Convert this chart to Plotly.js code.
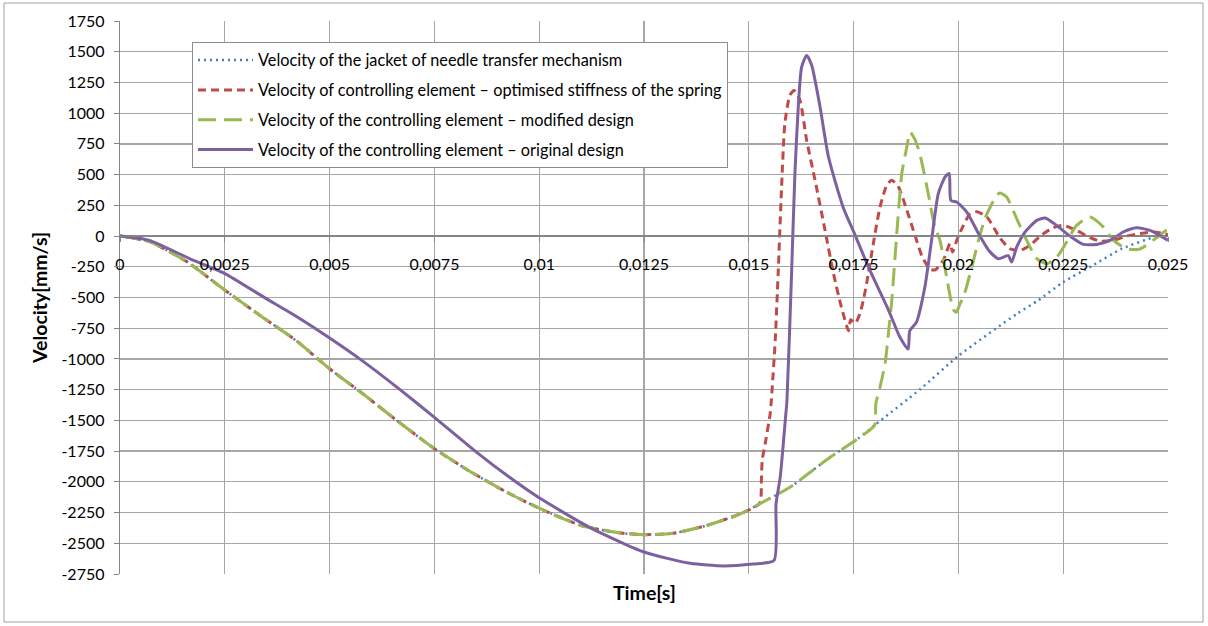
<!DOCTYPE html>
<html><head><meta charset="utf-8">
<script src="https://cdn.plot.ly/plotly-3.0.1.min.js"></script>
<style>html,body{margin:0;padding:0;background:#fff}#chart{width:1208px;height:626px}</style>
</head><body><div id="chart"></div>
<script>
// Velocity of the jacket of needle transfer mechanism
const jacketT = [0,0.0007,0.0016,0.0025,0.0034,0.0042,0.005,0.0058,0.0066,0.0075,0.0083,0.0092,0.01,0.011,0.0119,0.0125,0.0132,0.014,0.0148,0.0155,0.016,0.0169,0.0176,0.018,0.0191,0.02,0.0214,0.0219,0.0225,0.0232,0.0239,0.0247,0.025];
const jacketV = [0,-45,-210,-440,-660,-850,-1080,-1285,-1500,-1730,-1905,-2080,-2215,-2355,-2415,-2430,-2418,-2355,-2260,-2135,-2040,-1810,-1650,-1540,-1243,-975,-632,-524,-375,-240,-103,-5,20];

// Velocity of controlling element – optimised stiffness of the spring
const optimT = [0,0.0007,0.0016,0.0025,0.0034,0.0042,0.005,0.0058,0.0066,0.0075,0.0083,0.0092,0.01,0.011,0.0119,0.0125,0.0132,0.014,0.0148,0.01526,0.0153,0.01532,0.01539,0.01551,0.01554,0.01563,0.0157,0.01578,0.01586,0.01598,0.01608,0.01622,0.01638,0.01658,0.01682,0.01702,0.01721,0.01738,0.01743,0.01754,0.01765,0.01773,0.01781,0.01797,0.01813,0.01829,0.01841,0.01857,0.01877,0.01897,0.01913,0.01932,0.01945,0.01965,0.0198,0.01986,0.01996,0.02012,0.02028,0.02044,0.02068,0.02091,0.021,0.02123,0.02147,0.02171,0.02195,0.02226,0.0225,0.02282,0.02314,0.02338,0.0237,0.02401,0.02433,0.02465,0.02489,0.025];
const optimV = [0,-45,-210,-440,-660,-850,-1080,-1285,-1500,-1730,-1905,-2080,-2215,-2355,-2415,-2430,-2418,-2355,-2260,-2175,-1990,-1825,-1690,-1445,-1325,-850,-305,380,915,1145,1185,1105,780,455,45,-305,-580,-770,-680,-710,-632,-525,-387,-62,236,413,455,400,210,0,-163,-270,-275,-190,-60,-130,-35,87,182,198,155,30,-20,-103,-117,-76,0,68,87,46,-13,-41,-35,0,20,33,20,5];

// Velocity of the controlling element – modified design
const modT = [0,0.0007,0.0016,0.0025,0.0034,0.0042,0.005,0.0058,0.0066,0.0075,0.0083,0.0092,0.01,0.011,0.0119,0.0125,0.0132,0.014,0.0148,0.0155,0.016,0.0169,0.0176,0.018,0.01803,0.01813,0.01825,0.01833,0.01841,0.01853,0.01865,0.01877,0.01885,0.01897,0.01908,0.01928,0.01944,0.01956,0.01972,0.01988,0.01995,0.02004,0.02012,0.02028,0.02048,0.02063,0.02075,0.02091,0.02099,0.02115,0.02139,0.02163,0.02187,0.02211,0.02235,0.02258,0.02282,0.02314,0.02346,0.0237,0.02401,0.02433,0.02473,0.025];
const modV = [0,-45,-210,-440,-660,-850,-1080,-1285,-1500,-1730,-1905,-2080,-2215,-2355,-2415,-2430,-2418,-2355,-2260,-2135,-2040,-1810,-1650,-1540,-1365,-1230,-1040,-795,-525,20,510,725,845,780,670,345,73,-35,-334,-600,-620,-550,-497,-306,-35,140,230,330,350,318,142,-35,-184,-225,-171,-49,87,155,73,-35,-103,-105,-13,60];

// Velocity of the controlling element – original design
const origT = [0,0.0007,0.00167,0.0025,0.00342,0.00421,0.005,0.0058,0.00668,0.0075,0.00851,0.0093,0.01,0.0112,0.0125,0.0136,0.0144,0.0151,0.0156,0.01565,0.01575,0.01587,0.01591,0.01602,0.0161,0.01618,0.01626,0.01638,0.0165,0.0167,0.0169,0.01725,0.01752,0.01789,0.01833,0.0186,0.0188,0.01884,0.019,0.0192,0.01936,0.01952,0.01968,0.01978,0.01982,0.01996,0.0202,0.02048,0.02072,0.02095,0.02119,0.02127,0.02139,0.02159,0.02187,0.02207,0.02234,0.02266,0.02298,0.0233,0.02362,0.02393,0.02425,0.02457,0.025];
const origV = [0,-35,-185,-305,-495,-655,-830,-1020,-1250,-1475,-1760,-1965,-2130,-2370,-2571,-2663,-2684,-2668,-2641,-2180,-1960,-1500,-1338,-305,510,1050,1375,1470,1390,1050,645,235,20,-280,-600,-820,-920,-770,-700,-415,-35,345,480,510,290,277,195,20,-115,-184,-160,-212,-90,33,128,147,87,0,-68,-68,-35,33,68,46,-35];

const xTickVals = [0,0.0025,0.005,0.0075,0.01,0.0125,0.015,0.0175,0.02,0.0225,0.025];
const xTickText = ['0','0,0025','0,005','0,0075','0,01','0,0125','0,015','0,0175','0,02','0,0225','0,025'];
const yTickVals = [-2750,-2500,-2250,-2000,-1750,-1500,-1250,-1000,-750,-500,-250,0,250,500,750,1000,1250,1500,1750];
const yTickText = ['-2750','-2500','-2250','-2000','-1750','-1500','-1250','-1000','-750','-500','-250','0','250','500','750','1000','1250','1500','1750'];

const names = [
  'Velocity of the jacket of needle transfer mechanism',
  'Velocity of controlling element \u2013 optimised stiffness of the spring',
  'Velocity of the controlling element \u2013 modified design',
  'Velocity of the controlling element \u2013 original design'
];

const FONT = 'Lato, "Open Sans", sans-serif';
const SM = 0.6;
const traces = [
  {x: jacketT, y: jacketV, name: names[0], legendgroup: 'a', mode: 'lines',
   line: {color: '#4A7EBB', width: 2.5, dash: '2px,4px', shape: 'spline', smoothing: SM}},
  {x: optimT, y: optimV, name: names[1], legendgroup: 'b', mode: 'lines',
   line: {color: '#BE4B48', width: 3, dash: '8px,5px', shape: 'spline', smoothing: SM}},
  {x: modT, y: modV, name: names[2], legendgroup: 'c', mode: 'lines',
   line: {color: '#98B954', width: 3, dash: '18px,8px', shape: 'spline', smoothing: SM}},
  {x: origT, y: origV, name: names[3], legendgroup: 'd', mode: 'lines',
   line: {color: '#7D60A0', width: 3, shape: 'spline', smoothing: SM}}
];

const yFrac = 2750 / 4500;
const layout = {
  width: 1208, height: 626,
  margin: {l: 120, r: 40, t: 21, b: 52},
  paper_bgcolor: '#fff', plot_bgcolor: '#fff',
  font: {family: FONT, size: 15, color: '#000'},
  showlegend: true,
  legend: {x: 0.0687, y: 0.962, xanchor: 'left', yanchor: 'top',
    bgcolor: '#fff', bordercolor: '#8c8c8c', borderwidth: 1,
    font: {family: FONT, size: 16.3, color: '#000'},
    traceorder: 'grouped', tracegroupgap: 5.6, itemwidth: 55},
  xaxis: {range: [0, 0.025], tickvals: xTickVals, ticktext: xTickText,
    anchor: 'free', position: yFrac,
    showgrid: true, gridcolor: '#a6a6a6', gridwidth: 1.3,
    showline: true, linecolor: '#868686', linewidth: 1.3,
    ticks: 'outside', ticklen: 5, tickcolor: '#868686',
    ticklabelstandoff: 8,
    zeroline: false, tickfont: {family: FONT, size: 16, color: '#000'}},
  yaxis: {range: [-2750, 1750], tickvals: yTickVals, ticktext: yTickText,
    showgrid: true, gridcolor: '#a6a6a6', gridwidth: 1.3,
    showline: true, linecolor: '#868686', linewidth: 1.3,
    ticks: 'outside', ticklen: 5, tickcolor: '#868686',
    ticklabelstandoff: 6,
    zeroline: true, zerolinecolor: '#868686', zerolinewidth: 1.5,
    tickfont: {family: FONT, size: 16, color: '#000'},
    title: {text: '<b>Velocity[mm/s]</b>', font: {family: FONT, size: 19.5, color: '#000'}, standoff: 8}},
  annotations: [
    {text: '<b>Time[s]</b>', xref: 'paper', yref: 'paper', x: 0.5, y: -0.034,
     xanchor: 'center', yanchor: 'middle', showarrow: false,
     font: {family: FONT, size: 19.5, color: '#000'}}
  ],
  shapes: [
    {type: 'rect', xref: 'paper', yref: 'paper',
     x0: -0.1107, x1: 1.0334, y0: -0.0868, y1: 1.0325,
     line: {color: '#a0a0a0', width: 1}, fillcolor: 'rgba(0,0,0,0)', layer: 'below'}
  ]
};

Plotly.newPlot('chart', traces, layout, {displayModeBar: false, staticPlot: true});
</script></body></html>
